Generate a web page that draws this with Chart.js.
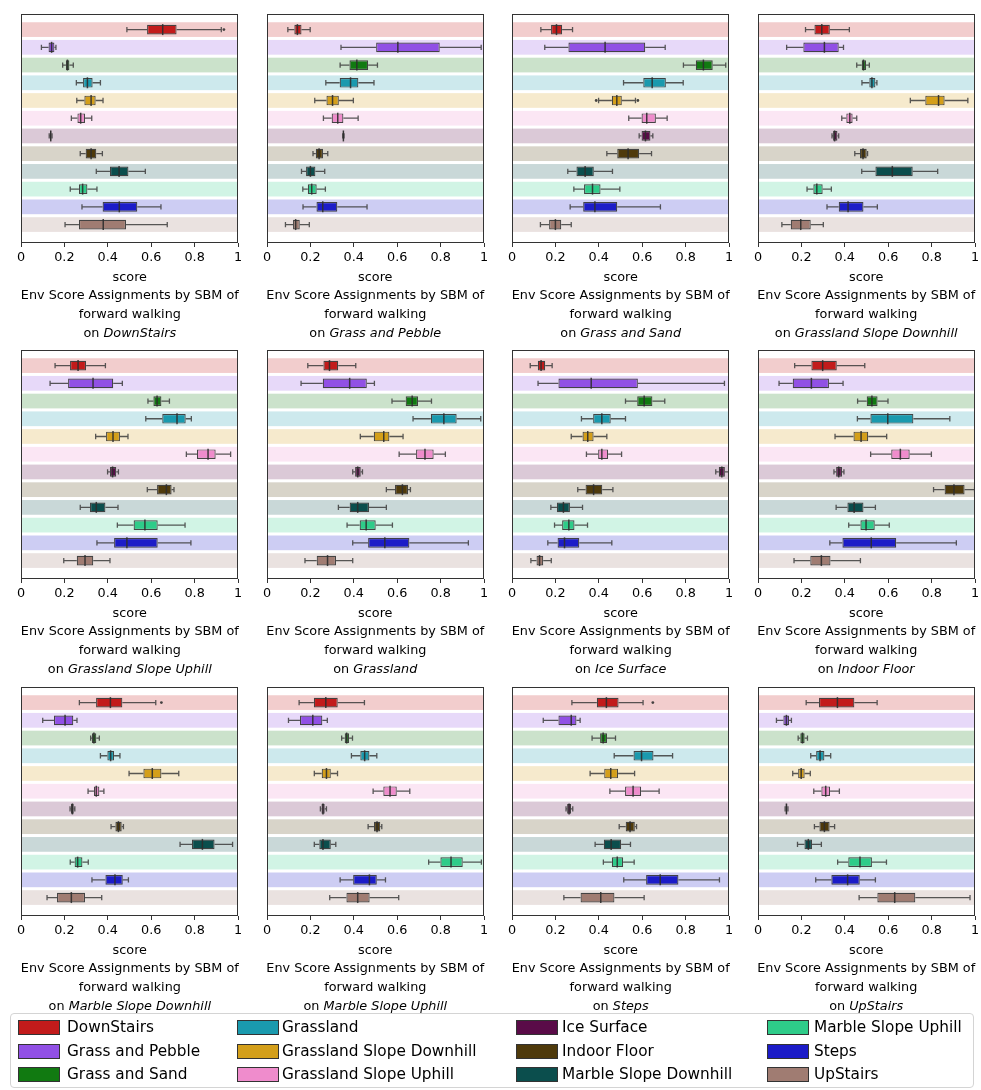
<!DOCTYPE html>
<html><head><meta charset="utf-8">
<script src="https://cdn.jsdelivr.net/npm/chart.js@4.4.0/dist/chart.umd.min.js"></script>
<style>
body{margin:0;background:#fff;width:981px;height:1090px;position:relative;overflow:hidden;font-family:"DejaVu Sans",sans-serif;}
canvas{position:absolute;}
.lbl{position:absolute;width:260px;text-align:center;font-size:12.8px;line-height:18.7px;color:#000;white-space:nowrap;}
.legend{position:absolute;left:10px;top:1013px;width:964px;height:75px;border:1px solid #d4d4d4;border-radius:4px;box-sizing:border-box;}
.li{position:absolute;font-size:15.3px;line-height:18px;color:#000;white-space:nowrap;}
.sw{position:absolute;width:42px;height:15px;border:1px solid #333;box-sizing:border-box;}
</style></head>
<body>
<div id="root"></div>
<script>
const categories = ['DownStairs','Grass and Pebble','Grass and Sand','Grassland','Grassland Slope Downhill','Grassland Slope Uphill','Ice Surface','Indoor Floor','Marble Slope Downhill','Marble Slope Uphill','Steps','UpStairs'];
const colors = ['#c21b1b','#9150e5','#117a11','#1a9aae','#d49f1a','#ef8ccc','#5a0b48','#4f3a0b','#0b4e4d','#2ecc89','#1c1cc8','#a07c72'];
const panelEnvs = ['DownStairs','Grass and Pebble','Grass and Sand','Grassland Slope Downhill','Grassland Slope Uphill','Grassland','Ice Surface','Indoor Floor','Marble Slope Downhill','Marble Slope Uphill','Steps','UpStairs'];
const tickValues = [0,0.2,0.4,0.6,0.8,1];
const tickLabels = ['0','0.2','0.4','0.6','0.8','1'];

// each row: [whiskerLow, q1, median, q3, whiskerHigh], rows follow `categories`
const onDownStairs = [
 [0.488,0.581,0.653,0.717,0.923],[0.094,0.127,0.141,0.154,0.161],[0.192,0.207,0.214,0.223,0.241],
 [0.255,0.286,0.306,0.330,0.366],[0.257,0.292,0.323,0.344,0.378],[0.232,0.260,0.275,0.295,0.326],
 [0.130,0.134,0.137,0.140,0.143],[0.273,0.298,0.323,0.347,0.375],[0.347,0.410,0.452,0.495,0.573],
 [0.227,0.267,0.284,0.306,0.350],[0.281,0.376,0.453,0.536,0.645],[0.203,0.267,0.379,0.484,0.674]];
const onGrassAndPebble = [
 [0.096,0.126,0.140,0.159,0.199],[0.341,0.503,0.603,0.796,0.987],[0.337,0.380,0.414,0.466,0.509],
 [0.271,0.335,0.385,0.421,0.493],[0.220,0.274,0.302,0.331,0.398],[0.260,0.298,0.326,0.352,0.420],
 [0.349,0.350,0.352,0.354,0.355],[0.212,0.225,0.240,0.258,0.280],[0.159,0.180,0.200,0.223,0.266],
 [0.165,0.188,0.206,0.229,0.269],[0.166,0.228,0.257,0.324,0.461],[0.085,0.120,0.132,0.151,0.195]];
const onGrassAndSand = [
 [0.133,0.180,0.205,0.231,0.279],[0.151,0.260,0.429,0.614,0.706],[0.790,0.847,0.882,0.925,0.985],
 [0.514,0.605,0.646,0.709,0.789],[0.399,0.460,0.483,0.506,0.569],[0.538,0.597,0.621,0.663,0.715],
 [0.586,0.597,0.615,0.638,0.649],[0.437,0.485,0.535,0.586,0.643],[0.257,0.297,0.337,0.377,0.463],
 [0.285,0.332,0.371,0.408,0.497],[0.268,0.328,0.382,0.485,0.684],[0.131,0.171,0.200,0.227,0.273]];
const onGrasslandSlopeDownhill = [
 [0.219,0.260,0.294,0.331,0.421],[0.132,0.209,0.306,0.372,0.394],[0.455,0.478,0.486,0.498,0.513],
 [0.479,0.513,0.525,0.541,0.548],[0.702,0.771,0.832,0.860,0.967],[0.386,0.407,0.423,0.436,0.455],
 [0.341,0.346,0.353,0.366,0.372],[0.446,0.470,0.484,0.501,0.505],[0.478,0.541,0.619,0.713,0.828],
 [0.226,0.255,0.271,0.298,0.338],[0.318,0.372,0.415,0.486,0.550],[0.110,0.151,0.197,0.243,0.301]];
const onGrasslandSlopeUphill = [
 [0.157,0.226,0.263,0.300,0.389],[0.134,0.217,0.332,0.425,0.467],[0.585,0.610,0.627,0.647,0.684],
 [0.575,0.651,0.719,0.759,0.785],[0.344,0.392,0.424,0.456,0.493],[0.762,0.811,0.862,0.897,0.966],
 [0.399,0.410,0.422,0.439,0.449],[0.582,0.627,0.670,0.694,0.705],[0.273,0.318,0.347,0.389,0.447],
 [0.444,0.519,0.571,0.630,0.756],[0.350,0.429,0.488,0.630,0.783],[0.197,0.257,0.295,0.333,0.410]];
const onGrassland = [
 [0.188,0.260,0.288,0.328,0.409],[0.157,0.257,0.381,0.460,0.495],[0.576,0.639,0.669,0.696,0.758],
 [0.673,0.755,0.815,0.874,0.985],[0.430,0.492,0.538,0.564,0.627],[0.609,0.687,0.728,0.768,0.822],
 [0.395,0.406,0.418,0.432,0.440],[0.550,0.590,0.624,0.650,0.661],[0.329,0.381,0.418,0.470,0.550],
 [0.369,0.427,0.457,0.501,0.578],[0.395,0.466,0.543,0.656,0.928],[0.175,0.229,0.279,0.318,0.395]];
const onIceSurface = [
 [0.084,0.119,0.134,0.153,0.185],[0.120,0.214,0.365,0.580,0.979],[0.523,0.577,0.609,0.647,0.704],
 [0.320,0.374,0.414,0.455,0.523],[0.273,0.325,0.349,0.376,0.437],[0.343,0.397,0.414,0.443,0.505],
 [0.939,0.953,0.967,0.981,1.000],[0.303,0.339,0.376,0.416,0.465],[0.179,0.207,0.237,0.267,0.325],
 [0.196,0.231,0.262,0.288,0.348],[0.165,0.210,0.242,0.310,0.460],[0.087,0.113,0.127,0.144,0.181]];
const onIndoorFloor = [
 [0.169,0.246,0.298,0.363,0.492],[0.097,0.160,0.246,0.327,0.392],[0.459,0.501,0.525,0.551,0.599],
 [0.458,0.518,0.598,0.716,0.884],[0.355,0.440,0.475,0.508,0.593],[0.519,0.614,0.656,0.699,0.799],
 [0.350,0.360,0.372,0.387,0.396],[0.809,0.860,0.903,0.952,0.998],[0.360,0.412,0.443,0.486,0.541],
 [0.418,0.472,0.498,0.538,0.605],[0.331,0.389,0.522,0.637,0.914],[0.166,0.241,0.292,0.334,0.472]];
const onMarbleSlopeDownhill = [
 [0.269,0.346,0.412,0.467,0.621],[0.100,0.152,0.203,0.241,0.258],[0.321,0.327,0.336,0.347,0.361],
 [0.366,0.398,0.413,0.429,0.456],[0.498,0.564,0.605,0.647,0.727],[0.309,0.336,0.347,0.361,0.382],
 [0.226,0.230,0.237,0.243,0.248],[0.415,0.435,0.449,0.464,0.472],[0.733,0.788,0.836,0.892,0.975],
 [0.227,0.247,0.261,0.283,0.310],[0.327,0.389,0.433,0.469,0.495],[0.120,0.166,0.232,0.295,0.372]];
const onMarbleSlopeUphill = [
 [0.148,0.216,0.271,0.326,0.449],[0.099,0.152,0.211,0.255,0.278],[0.344,0.358,0.367,0.378,0.394],
 [0.389,0.430,0.450,0.472,0.506],[0.218,0.252,0.274,0.294,0.325],[0.489,0.536,0.567,0.598,0.658],
 [0.246,0.251,0.258,0.266,0.274],[0.466,0.493,0.507,0.522,0.529],[0.218,0.241,0.258,0.294,0.317],
 [0.745,0.799,0.848,0.902,0.988],[0.337,0.397,0.472,0.506,0.546],[0.289,0.366,0.418,0.473,0.607]];
const onSteps = [
 [0.276,0.391,0.435,0.491,0.604],[0.144,0.214,0.273,0.297,0.314],[0.369,0.406,0.420,0.438,0.477],
 [0.471,0.560,0.597,0.652,0.740],[0.360,0.425,0.455,0.489,0.565],[0.451,0.521,0.558,0.595,0.678],
 [0.249,0.254,0.263,0.272,0.280],[0.494,0.524,0.544,0.566,0.574],[0.383,0.423,0.457,0.503,0.546],
 [0.421,0.460,0.485,0.512,0.563],[0.515,0.618,0.683,0.767,0.956],[0.239,0.316,0.409,0.472,0.609]];
const onUpStairs = [
 [0.222,0.281,0.366,0.444,0.549],[0.085,0.117,0.131,0.143,0.154],[0.185,0.195,0.205,0.215,0.228],
 [0.243,0.268,0.286,0.306,0.335],[0.160,0.185,0.199,0.215,0.241],[0.257,0.292,0.312,0.332,0.375],
 [0.125,0.128,0.131,0.135,0.138],[0.260,0.283,0.306,0.330,0.353],[0.182,0.214,0.232,0.249,0.292],
 [0.367,0.416,0.470,0.525,0.592],[0.266,0.338,0.413,0.469,0.541],[0.466,0.550,0.630,0.725,0.977]];
const panelStats = [onDownStairs,onGrassAndPebble,onGrassAndSand,onGrasslandSlopeDownhill,onGrasslandSlopeUphill,onGrassland,onIceSurface,onIndoorFloor,onMarbleSlopeDownhill,onMarbleSlopeUphill,onSteps,onUpStairs];
// [panel, category, value]
const outliers = [[0,0,0.935],[2,4,0.388],[2,4,0.580],[8,0,0.647],[10,0,0.649]];

function rgba(hex,a){const n=parseInt(hex.slice(1),16);return `rgba(${n>>16},${(n>>8)&255},${n&255},${a})`;}

const boxPlugin = {
  id:'boxparts',
  beforeDatasetsDraw(chart){
    const {ctx, chartArea:ca, scales:{y}} = chart;
    ctx.save();
    categories.forEach((c,i)=>{
      const t=y.getPixelForValue(i-0.415), b=y.getPixelForValue(i+0.415);
      ctx.fillStyle=rgba(colors[i],0.22);
      ctx.fillRect(ca.left, t, ca.right-ca.left, b-t);
    });
    ctx.restore();
  },
  afterDatasetsDraw(chart){
    const {ctx, chartArea:ca, scales:{x,y}} = chart;
    const stats = chart.data.datasets[0].stats;
    const p = chart.data.datasets[0].panel;
    ctx.save();
    ctx.beginPath(); ctx.rect(ca.left, ca.top, ca.right-ca.left, ca.bottom-ca.top); ctx.clip();
    stats.forEach((s,i)=>{
      const yc=y.getPixelForValue(i), capT=y.getPixelForValue(i-0.15), capB=y.getPixelForValue(i+0.15);
      const bt=y.getPixelForValue(i-0.31), bb=y.getPixelForValue(i+0.31);
      ctx.strokeStyle='rgba(60,60,60,0.85)'; ctx.lineWidth=1.3;
      ctx.beginPath();
      ctx.moveTo(x.getPixelForValue(s[0]),yc); ctx.lineTo(x.getPixelForValue(s[1]),yc);
      ctx.moveTo(x.getPixelForValue(s[3]),yc); ctx.lineTo(x.getPixelForValue(s[4]),yc);
      ctx.moveTo(x.getPixelForValue(s[0]),capT); ctx.lineTo(x.getPixelForValue(s[0]),capB);
      ctx.moveTo(x.getPixelForValue(s[4]),capT); ctx.lineTo(x.getPixelForValue(s[4]),capB);
      ctx.stroke();
      ctx.strokeStyle='rgba(45,45,45,0.9)'; ctx.lineWidth=1.5;
      ctx.beginPath();
      ctx.moveTo(x.getPixelForValue(s[2]),bt); ctx.lineTo(x.getPixelForValue(s[2]),bb);
      ctx.stroke();
    });
    outliers.filter(o=>o[0]===p).forEach(o=>{
      ctx.fillStyle='rgba(50,50,50,0.9)';
      ctx.beginPath(); ctx.arc(x.getPixelForValue(o[2]), y.getPixelForValue(o[1]), 1.4, 0, Math.PI*2); ctx.fill();
    });
    ctx.restore();
    ctx.save();
    ctx.strokeStyle='#333'; ctx.lineWidth=1;
    ctx.strokeRect(Math.round(ca.left)+0.5, Math.round(ca.top)+0.5, Math.round(ca.right-ca.left)-1, Math.round(ca.bottom-ca.top)-1);
    ctx.restore();
  }
};

const root=document.getElementById('root');
const plotW=217, plotH=229, padL=14, padR=14, padT=2, axisH=26;
const colLeft=[21.3,266.8,512.2,757.7], rowTop=[14,350,687];

panelEnvs.forEach((env,p)=>{
  const r=Math.floor(p/4), c=p%4;
  const cv=document.createElement('canvas');
  const W=plotW+padL+padR, H=padT+plotH+axisH;
  cv.width=W; cv.height=H;
  cv.style.width=W+'px'; cv.style.height=H+'px';
  cv.style.left=(colLeft[c]-padL)+'px'; cv.style.top=(rowTop[r]-padT)+'px';
  root.appendChild(cv);
  const stats=panelStats[p];
  new Chart(cv,{
    type:'bar',
    data:{datasets:[{
      data: stats.map((s,i)=>({y:i, x:[s[1],s[3]]})),
      backgroundColor: colors, borderColor:'rgba(50,50,50,0.9)', borderWidth:1.2, borderSkipped:false,
      barPercentage:0.62, categoryPercentage:1, stats:stats, panel:p
    }]},
    options:{
      indexAxis:'y', responsive:false, animation:false, events:[],
      layout:{padding:{left:padL,right:padR,top:padT,bottom:0}},
      plugins:{legend:{display:false}, tooltip:{enabled:false}},
      scales:{
        x:{type:'linear', min:0, max:1,
           afterBuildTicks:s=>{s.ticks=tickValues.map(v=>({value:v}));},
           afterFit:s=>{s.height=axisH;},
           ticks:{callback:(v,i)=>tickLabels[i], font:{family:'DejaVu Sans',size:12.8}, color:'#000', padding:3, maxRotation:0, autoSkip:false},
           grid:{display:true, drawOnChartArea:false, drawTicks:true, tickLength:4, tickColor:'#333', tickWidth:1},
           border:{display:false}},
        y:{type:'linear', reverse:true, min:-0.88, max:12.04, offset:false, display:false, grid:{offset:false}}
      }
    },
    plugins:[boxPlugin]
  });
  const lb=document.createElement('div');
  lb.className='lbl';
  lb.style.left=(colLeft[c]+plotW/2-130)+'px';
  lb.style.top=(rowTop[r]+plotH+34-9.35)+'px';
  lb.innerHTML='score<br>Env Score Assignments by SBM of<br>forward walking<br>on <i>'+env+'</i>';
  root.appendChild(lb);
});

// legend
const lg=document.createElement('div'); lg.className='legend'; root.appendChild(lg);
const legCols=[[18,67],[237,282],[516,562],[767,814]], legRows=[1027,1051,1074];
categories.forEach((cat,i)=>{
  const c=Math.floor(i/3), r=i%3;
  const sw=document.createElement('div'); sw.className='sw';
  sw.style.left=legCols[c][0]+'px'; sw.style.top=(legRows[r]-7.5)+'px'; sw.style.background=colors[i];
  root.appendChild(sw);
  const t=document.createElement('div'); t.className='li';
  t.style.left=legCols[c][1]+'px'; t.style.top=(legRows[r]-9)+'px'; t.textContent=cat;
  root.appendChild(t);
});
</script>
</body></html>
